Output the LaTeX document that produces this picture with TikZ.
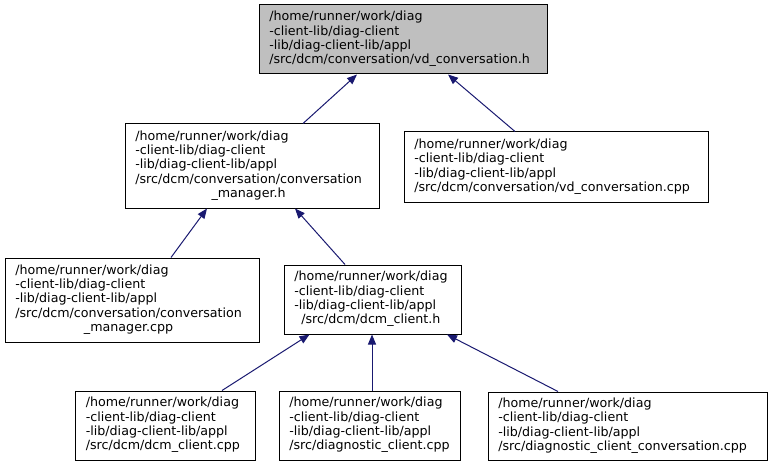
\documentclass[tikz,border=0pt]{standalone}
\usepackage{fontspec}
\setmainfont{DejaVu Sans}
\usetikzlibrary{arrows.meta}
\definecolor{edgeblue}{HTML}{191970}
\definecolor{topgray}{HTML}{BFBFBF}
\newcommand{\dlabel}[2]{{\fontsize{9.5pt}{10.8pt}\selectfont\begin{tabular}{@{}l@{}}#1\multicolumn{1}{@{}c@{}}{#2}\end{tabular}}}
\newcommand{\filenode}[8]{%
  \node[filebox, fill=#8, minimum width=#4*0.75pt, minimum height=#5*0.75pt,
    label={[anchor=west, xshift=10.5*0.75pt, inner sep=0pt]west:\dlabel{#6}{#7}}] (#1) at (#2,#3) {};}
\tikzset{
  x=0.75pt, y=-0.75pt,
  filebox/.style={draw=black, line width=0.75pt, inner sep=0pt},
  dep/.style={draw=edgeblue, line width=0.75pt, {Triangle[length=7.5pt,width=6pt]}-}
}
\begin{document}
\begin{tikzpicture}
\useasboundingbox (0,0) rectangle (772,467);
\filenode{A}{403}{39.5}{288}{69}{/home/runner/work/diag\\-client-lib/diag-client\\-lib/diag-client-lib/appl\\}{/src/dcm/conversation/vd\_conversation.h}{topgray}
\filenode{B}{252}{166}{254}{84}{/home/runner/work/diag\\-client-lib/diag-client\\-lib/diag-client-lib/appl\\/src/dcm/conversation/conversation\\}{\_manager.h}{white}
\filenode{C}{556}{167}{304}{70}{/home/runner/work/diag\\-client-lib/diag-client\\-lib/diag-client-lib/appl\\}{/src/dcm/conversation/vd\_conversation.cpp}{white}
\filenode{D}{132}{300}{254}{84}{/home/runner/work/diag\\-client-lib/diag-client\\-lib/diag-client-lib/appl\\/src/dcm/conversation/conversation\\}{\_manager.cpp}{white}
\filenode{E}{372.5}{299.5}{177}{69}{/home/runner/work/diag\\-client-lib/diag-client\\-lib/diag-client-lib/appl\\}{/src/dcm/dcm\_client.h}{white}
\filenode{F}{165.5}{425.5}{180}{69}{/home/runner/work/diag\\-client-lib/diag-client\\-lib/diag-client-lib/appl\\}{/src/dcm/dcm\_client.cpp}{white}
\filenode{G}{369.5}{425.5}{181}{69}{/home/runner/work/diag\\-client-lib/diag-client\\-lib/diag-client-lib/appl\\}{/src/diagnostic\_client.cpp}{white}
\filenode{H}{627.5}{426}{279}{68}{/home/runner/work/diag\\-client-lib/diag-client\\-lib/diag-client-lib/appl\\}{/src/diagnostic\_client\_conversation.cpp}{white}
\draw[dep] ([xshift=-46*0.75pt]A.south) -- ([xshift=51*0.75pt]B.north);
\draw[dep] ([xshift=45*0.75pt]A.south) -- ([xshift=-41*0.75pt]C.north);
\draw[dep] ([xshift=-45*0.75pt]B.south) -- ([xshift=39*0.75pt]D.north);
\draw[dep] ([xshift=43*0.75pt]B.south) -- ([xshift=-27.5*0.75pt]E.north);
\draw[dep] ([xshift=-63*0.75pt]E.south) -- ([xshift=56.5*0.75pt]F.north);
\draw[dep] ([xshift=-0.5*0.75pt]E.south) -- ([xshift=2.5*0.75pt]G.north);
\draw[dep] ([xshift=74.5*0.75pt]E.south) -- ([xshift=-69.5*0.75pt]H.north);
\end{tikzpicture}
\end{document}
